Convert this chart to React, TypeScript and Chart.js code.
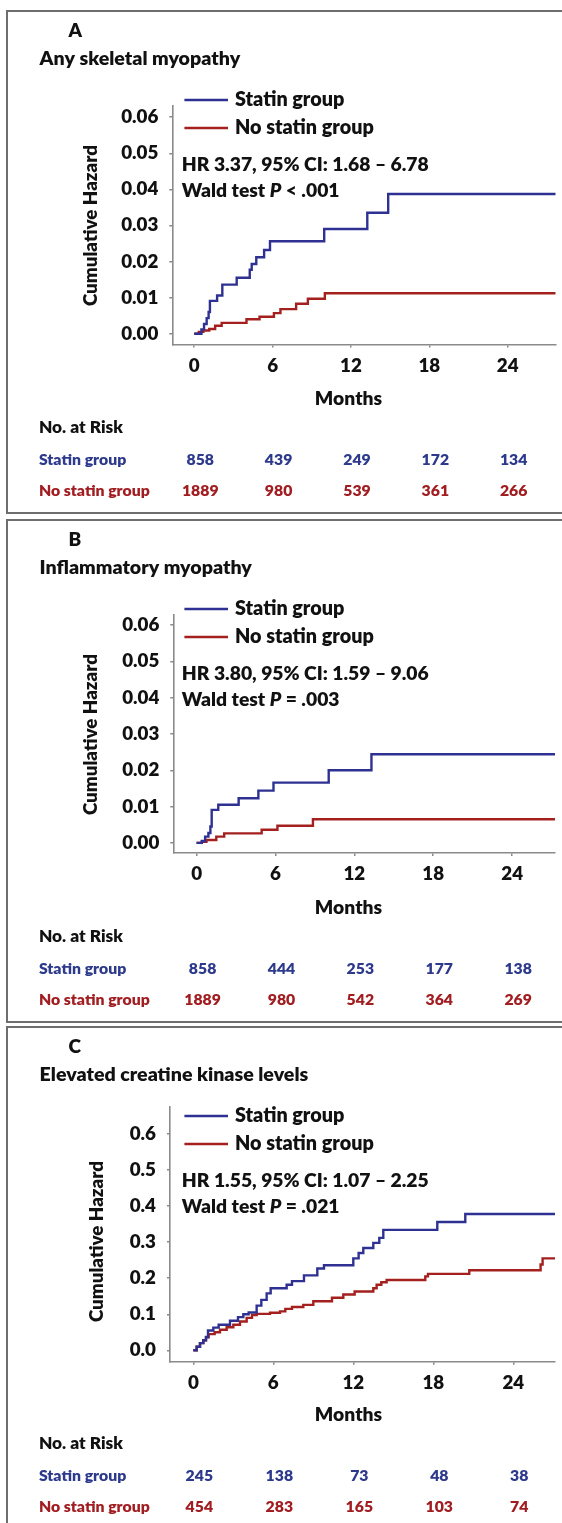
import React, { useEffect, useRef } from 'react';
import { Chart, registerables } from 'chart.js';

Chart.register(...registerables);

// ---------------- data ----------------
const xTickMonths = [0, 6, 12, 18, 24];
const yTicksSmall = [0, 0.01, 0.02, 0.03, 0.04, 0.05, 0.06];
const yTicksLarge = [0, 0.1, 0.2, 0.3, 0.4, 0.5, 0.6];
const seriesNames = ['Statin group', 'No statin group'];
const riskMonths = [0, 6, 12, 18, 24];

const panelLetters = ['A', 'B', 'C'];
const panelTitles = ['Any skeletal myopathy', 'Inflammatory myopathy', 'Elevated creatine kinase levels'];
const hrTexts = ['HR 3.37, 95% CI: 1.68 – 6.78', 'HR 3.80, 95% CI: 1.59 – 9.06', 'HR 1.55, 95% CI: 1.07 – 2.25'];
const waldTexts = ['< .001', '= .003', '= .021'];

// Panel A – any skeletal myopathy
const aStatinMonths = [0, 0.55, 0.75, 0.95, 1.1, 1.2, 1.75, 2.15, 3.25, 4.25, 4.4, 4.75, 5.35, 5.8, 9.95, 13.25, 14.85, 27.7];
const aStatinHazard = [0, 0.0012, 0.0027, 0.0043, 0.006, 0.0091, 0.0106, 0.0136, 0.0155, 0.0177, 0.0193, 0.0212, 0.0232, 0.0256, 0.029, 0.0335, 0.0387, 0.0387];
const aNoStatinMonths = [0, 0.35, 0.7, 1.15, 1.6, 2.1, 4.0, 5.0, 6.1, 6.6, 7.8, 8.7, 10.0, 27.7];
const aNoStatinHazard = [0, 0.0005, 0.0009, 0.0013, 0.0022, 0.003, 0.004, 0.0047, 0.0057, 0.0068, 0.0083, 0.0097, 0.0112, 0.0112];
const aRiskStatin = [858, 439, 249, 172, 134];
const aRiskNoStatin = [1889, 980, 539, 361, 266];

// Panel B – inflammatory myopathy
const bStatinMonths = [0, 0.4, 0.65, 0.9, 1.05, 1.15, 1.65, 3.2, 4.7, 5.85, 10.05, 13.3, 27.7];
const bStatinHazard = [0, 0.0005, 0.0017, 0.0027, 0.0045, 0.0091, 0.0105, 0.0123, 0.0144, 0.0166, 0.02, 0.0244, 0.0244];
const bNoStatinMonths = [0, 0.4, 0.75, 1.5, 2.1, 4.95, 6.15, 8.85, 27.7];
const bNoStatinHazard = [0, 0.0003, 0.0008, 0.0017, 0.0026, 0.0036, 0.0047, 0.0065, 0.0065];
const bRiskStatin = [858, 444, 253, 177, 138];
const bRiskNoStatin = [1889, 980, 542, 364, 269];

// Panel C – elevated creatine kinase levels
const cStatinMonths = [0, 0.25, 0.5, 0.75, 0.95, 1.1, 1.5, 1.9, 2.75, 3.35, 3.75, 4.15, 4.75, 5.1, 5.5, 5.8, 7.0, 7.4, 8.3, 9.3, 9.8, 12.0, 12.4, 12.75, 13.5, 13.95, 14.25, 18.3, 20.4, 27.7];
const cStatinHazard = [0, 0.01, 0.02, 0.028, 0.037, 0.055, 0.063, 0.071, 0.082, 0.092, 0.1, 0.105, 0.124, 0.14, 0.158, 0.172, 0.182, 0.192, 0.208, 0.227, 0.236, 0.255, 0.27, 0.284, 0.298, 0.312, 0.334, 0.356, 0.378, 0.378];
const cNoStatinMonths = [0, 0.25, 0.5, 0.75, 0.95, 1.15, 1.6, 2.0, 2.5, 3.0, 3.5, 4.0, 4.4, 4.75, 5.75, 6.5, 6.9, 7.4, 8.25, 9.0, 10.4, 11.25, 12.1, 13.5, 13.75, 14.1, 14.5, 17.4, 17.6, 20.7, 26.05, 26.2, 27.7];
const cNoStatinHazard = [0, 0.01, 0.02, 0.028, 0.036, 0.045, 0.05, 0.057, 0.064, 0.071, 0.08, 0.09, 0.098, 0.101, 0.104, 0.108, 0.115, 0.12, 0.126, 0.136, 0.146, 0.155, 0.163, 0.172, 0.182, 0.189, 0.195, 0.205, 0.212, 0.222, 0.238, 0.255, 0.255];
const cRiskStatin = [245, 138, 73, 48, 38];
const cRiskNoStatin = [454, 283, 165, 103, 74];

const statinMonths = [aStatinMonths, bStatinMonths, cStatinMonths];
const statinHazard = [aStatinHazard, bStatinHazard, cStatinHazard];
const noStatinMonths = [aNoStatinMonths, bNoStatinMonths, cNoStatinMonths];
const noStatinHazard = [aNoStatinHazard, bNoStatinHazard, cNoStatinHazard];
const riskStatin = [aRiskStatin, bRiskStatin, cRiskStatin];
const riskNoStatin = [aRiskNoStatin, bRiskNoStatin, cRiskNoStatin];
const yTicksPerPanel = [yTicksSmall, yTicksSmall, yTicksLarge];

// ---------------- styles / layout ----------------
const BLUE = '#2E3192';
const RED = '#A3201F';
const BLUE_TXT = '#2D3A8C';
const RED_TXT = '#A11D21';
const AXIS = '#8a8a8a';
const FONT = 'Lato, "Open Sans", "DejaVu Sans", sans-serif';
const WEIGHT = '800';
const CAP = 0.3585; // half of Lato cap height (em)
const X_AXIS_H = 30;

const layouts = [
  { top: 11, height: 500, left: 172.3, right: 555.5, areaTop: 95, areaBottom: 333.5, xMin: -1.68, xMax: 27.66, yMin: -0.003, yMax: 0.0631, decimals: 2, yTitleX: 90 },
  { top: 520, height: 500, left: 173.3, right: 555, areaTop: 95, areaBottom: 333, xMin: -1.77, xMax: 27.26, yMin: -0.0028, yMax: 0.0628, decimals: 2, yTitleX: 90 },
  { top: 1027, height: 496, left: 170, right: 555, areaTop: 80, areaBottom: 334.7, xMin: -1.75, xMax: 27.13, yMin: -0.0316, yMax: 0.675, decimals: 1, yTitleX: 96.5 },
];

const frames = [
  { top: 10, height: 504 },
  { top: 519, height: 504 },
  { top: 1026, height: 540 },
];

function toPoints(xs: number[], ys: number[]) {
  return xs.map((x, i) => ({ x, y: ys[i] }));
}

function drawText(
  ctx: CanvasRenderingContext2D,
  str: string,
  x: number,
  cy: number,
  size: number,
  color: string,
  align: CanvasTextAlign = 'left',
  italic = false
) {
  ctx.font = `${italic ? 'italic ' : ''}${WEIGHT} ${size}px ${FONT}`;
  ctx.fillStyle = color;
  ctx.textAlign = align;
  ctx.textBaseline = 'alphabetic';
  ctx.fillText(str, x, cy + CAP * size);
  return ctx.measureText(str).width;
}

function makeTextPlugin(idx: number) {
  return {
    id: 'panelText' + idx,
    afterDraw(chart: any) {
      const ctx: CanvasRenderingContext2D = chart.ctx;
      const xs = chart.scales.x;
      ctx.save();
      // panel letter and title
      drawText(ctx, panelLetters[idx], 68.5, 19.5, 19, '#111');
      drawText(ctx, panelTitles[idx], 39.6, 47, 19.6, '#111');
      // legend
      const legendY = [89, 117];
      const colors = [BLUE, RED];
      for (let i = 0; i < 2; i++) {
        ctx.strokeStyle = colors[i];
        ctx.lineWidth = 2.4;
        ctx.beginPath();
        ctx.moveTo(184.4, legendY[i]);
        ctx.lineTo(228, legendY[i]);
        ctx.stroke();
        drawText(ctx, seriesNames[i], 235, legendY[i] - 0.8, 19.8, '#111');
      }
      // HR and Wald test
      drawText(ctx, hrTexts[idx], 181.8, 153, 19.3, '#111');
      let wx = 181.8;
      wx += drawText(ctx, 'Wald test ', wx, 179.5, 19.3, '#111');
      wx += drawText(ctx, 'P', wx, 179.5, 19.3, '#111', 'left', true);
      drawText(ctx, ' ' + waldTexts[idx], wx, 179.5, 19.3, '#111');
      // y axis title
      const L = layouts[idx];
      ctx.save();
      ctx.translate(L.yTitleX, 214.5);
      ctx.rotate(-Math.PI / 2);
      drawText(ctx, 'Cumulative Hazard', 0, 0, 18.8, '#111', 'center');
      ctx.restore();
      // x axis title
      drawText(ctx, 'Months', 348.5, 387, 19.3, '#111', 'center');
      // number at risk table
      drawText(ctx, 'No. at Risk', 38.9, 415.3, 17.3, '#111');
      drawText(ctx, seriesNames[0], 38.9, 448, 15.8, BLUE_TXT);
      drawText(ctx, seriesNames[1], 38.9, 479.5, 15.8, RED_TXT);
      riskMonths.forEach((m, j) => {
        const px = xs.getPixelForValue(m) + 6;
        drawText(ctx, String(riskStatin[idx][j]), px, 448, 15.8, BLUE_TXT, 'center');
        drawText(ctx, String(riskNoStatin[idx][j]), px, 479.5, 15.8, RED_TXT, 'center');
      });
      ctx.restore();
    },
  };
}

function PanelChart({ idx }: { idx: number }) {
  const ref = useRef<HTMLCanvasElement | null>(null);
  const L = layouts[idx];
  useEffect(() => {
    const canvas = ref.current;
    if (!canvas) return;
    const tickFont = { family: FONT, size: 18.8, weight: WEIGHT };
    const chart = new Chart(canvas, {
      type: 'line',
      data: {
        datasets: [
          {
            label: seriesNames[0],
            data: toPoints(statinMonths[idx], statinHazard[idx]),
            borderColor: BLUE,
            backgroundColor: BLUE,
            borderWidth: 2.4,
            pointRadius: 0,
            stepped: 'before',
            fill: false,
          },
          {
            label: seriesNames[1],
            data: toPoints(noStatinMonths[idx], noStatinHazard[idx]),
            borderColor: RED,
            backgroundColor: RED,
            borderWidth: 2.4,
            pointRadius: 0,
            stepped: 'before',
            fill: false,
          },
        ],
      },
      options: {
        animation: false,
        responsive: false,
        maintainAspectRatio: false,
        devicePixelRatio: 1,
        events: [],
        layout: {
          padding: {
            left: 0,
            top: L.areaTop,
            right: 562 - L.right,
            bottom: L.height - L.areaBottom - X_AXIS_H,
          },
        },
        plugins: {
          legend: { display: false },
          title: { display: false },
          tooltip: { enabled: false },
        },
        scales: {
          x: {
            type: 'linear',
            min: L.xMin,
            max: L.xMax,
            afterBuildTicks: (s: any) => {
              s.ticks = xTickMonths.map((v) => ({ value: v }));
            },
            afterFit: (s: any) => {
              s.height = X_AXIS_H;
            },
            ticks: {
              font: tickFont,
              color: '#111',
              padding: 7,
              maxRotation: 0,
              autoSkip: false,
              callback: (v: any) => String(v),
            },
            grid: { drawOnChartArea: false, drawTicks: true, tickLength: 3, color: AXIS, lineWidth: 1.5 },
            border: { display: true, color: AXIS, width: 1.6 },
          },
          y: {
            type: 'linear',
            min: L.yMin,
            max: L.yMax,
            afterBuildTicks: (s: any) => {
              s.ticks = yTicksPerPanel[idx].map((v) => ({ value: v }));
            },
            afterFit: (s: any) => {
              s.width = L.left;
            },
            ticks: {
              font: tickFont,
              color: '#111',
              padding: 11,
              autoSkip: false,
              callback: (v: any) => Number(v).toFixed(L.decimals),
            },
            grid: { drawOnChartArea: false, drawTicks: true, tickLength: 3, color: AXIS, lineWidth: 1.5 },
            border: { display: true, color: AXIS, width: 1.6 },
          },
        },
      } as any,
      plugins: [makeTextPlugin(idx)],
    });
    return () => chart.destroy();
  }, [idx]);
  return (
    <canvas
      ref={ref}
      width={562}
      height={L.height}
      style={{ position: 'absolute', left: 0, top: L.top, width: 562, height: L.height, display: 'block' }}
    />
  );
}

export default function App() {
  return (
    <div
      style={{
        position: 'absolute',
        left: 0,
        top: 0,
        width: 562,
        height: 1523,
        overflow: 'hidden',
        background: '#ffffff',
      }}
    >
      {frames.map((f, i) => (
        <div
          key={'f' + i}
          style={{
            position: 'absolute',
            left: 6,
            top: f.top,
            width: 700,
            height: f.height,
            border: '2px solid #6e6e6e',
            boxSizing: 'border-box',
          }}
        />
      ))}
      {layouts.map((_, i) => (
        <PanelChart key={i} idx={i} />
      ))}
    </div>
  );
}
